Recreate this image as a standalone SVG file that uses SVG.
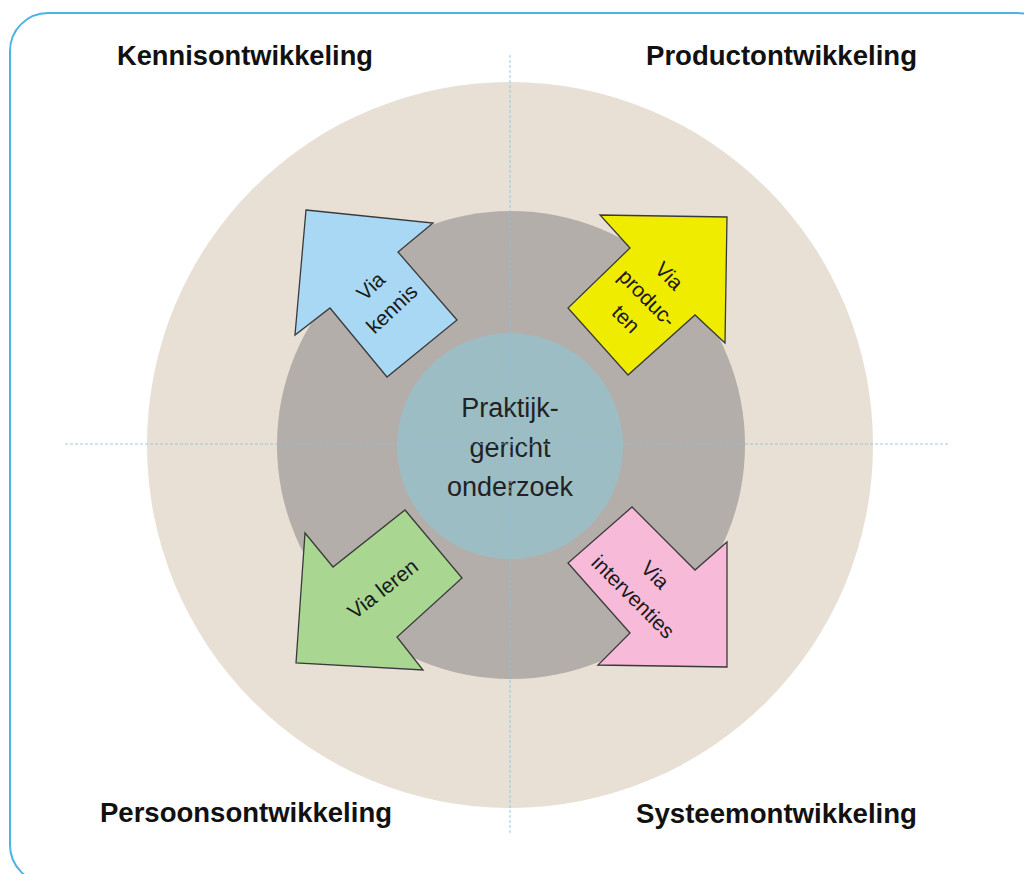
<svg xmlns="http://www.w3.org/2000/svg" width="1024" height="874" viewBox="0 0 1024 874">
  <style>
    .title { font-family: "Liberation Sans", Arial, sans-serif; font-weight: bold; font-size: 27px; fill: #111; }
    .lbl { font-family: "Liberation Sans", Arial, sans-serif; font-size: 21px; fill: #1a1a1a; text-anchor: middle; }
    .core { font-family: "Liberation Sans", Arial, sans-serif; font-size: 27px; fill: #222; text-anchor: middle; }
    .arrow { stroke: #3a3a3a; stroke-width: 1.3; stroke-linejoin: miter; }
    .axis { stroke: #8cc2df; stroke-width: 1; stroke-dasharray: 3 2; fill: none; opacity: 0.85; }
  </style>
  <rect x="0" y="0" width="1024" height="874" fill="#ffffff"/>
  <rect x="10" y="13" width="1045" height="870" rx="38" ry="38" fill="none" stroke="#4db2e6" stroke-width="2"/>

  <g id="outer-ring">
    <circle cx="510" cy="445" r="363" fill="#e8dfd5"/>
  </g>
  <g id="middle-ring">
    <circle cx="511" cy="445" r="234" fill="#b3aeaa"/>
  </g>
  <g id="core">
    <circle cx="510" cy="446" r="113" fill="#9dbdc5"/>
    <text class="core" x="510" y="417">Praktijk-</text>
    <text class="core" x="510" y="457">gericht</text>
    <text class="core" x="510" y="496">onderzoek</text>
  </g>

  <g id="connectors">
    <line class="axis" x1="510" y1="55" x2="510" y2="835"/>
    <line class="axis" x1="65" y1="444" x2="948" y2="444"/>
  </g>

  <g id="arrow-kennis">
    <polygon class="arrow" fill="#a9d8f5" points="306,210 433,223 398,252 457,320 387,377 330,308 295,335"/>
    <g transform="translate(392,309) rotate(-43)">
      <text class="lbl" x="0" y="-24">Via</text>
      <text class="lbl" x="0" y="7">kennis</text>
    </g>
  </g>

  <g id="arrow-producten">
    <polygon class="arrow" fill="#efec00" points="727,217 725,343 695,315 628,375 568,308 630,248 600,215"/>
    <g transform="translate(647,298) rotate(45)">
      <text class="lbl" x="0" y="-24">Via</text>
      <text class="lbl" x="0" y="7">produc-</text>
      <text class="lbl" x="0" y="37">ten</text>
    </g>
  </g>

  <g id="arrow-leren">
    <polygon class="arrow" fill="#a9d690" points="296,663 305,533 333,567 405,510 462,578 397,637 423,670"/>
    <g transform="translate(383,589) rotate(-38)">
      <text class="lbl" x="0" y="7">Via leren</text>
    </g>
  </g>

  <g id="arrow-interventies">
    <polygon class="arrow" fill="#f7bad8" points="727,667 598,665 630,633 568,563 632,507 695,570 727,542"/>
    <g transform="translate(633,597) rotate(45)">
      <text class="lbl" x="0" y="-24">Via</text>
      <text class="lbl" x="0" y="7">interventies</text>
    </g>
  </g>

  <g id="label-kennisontwikkeling">
    <text class="title" x="117" y="65" textLength="256" lengthAdjust="spacingAndGlyphs">Kennisontwikkeling</text>
  </g>
  <g id="label-productontwikkeling">
    <text class="title" x="646" y="65" textLength="271" lengthAdjust="spacingAndGlyphs">Productontwikkeling</text>
  </g>
  <g id="label-persoonsontwikkeling">
    <text class="title" x="100" y="822" textLength="292" lengthAdjust="spacingAndGlyphs">Persoonsontwikkeling</text>
  </g>
  <g id="label-systeemontwikkeling">
    <text class="title" x="636" y="823" textLength="281" lengthAdjust="spacingAndGlyphs">Systeemontwikkeling</text>
  </g>
</svg>
